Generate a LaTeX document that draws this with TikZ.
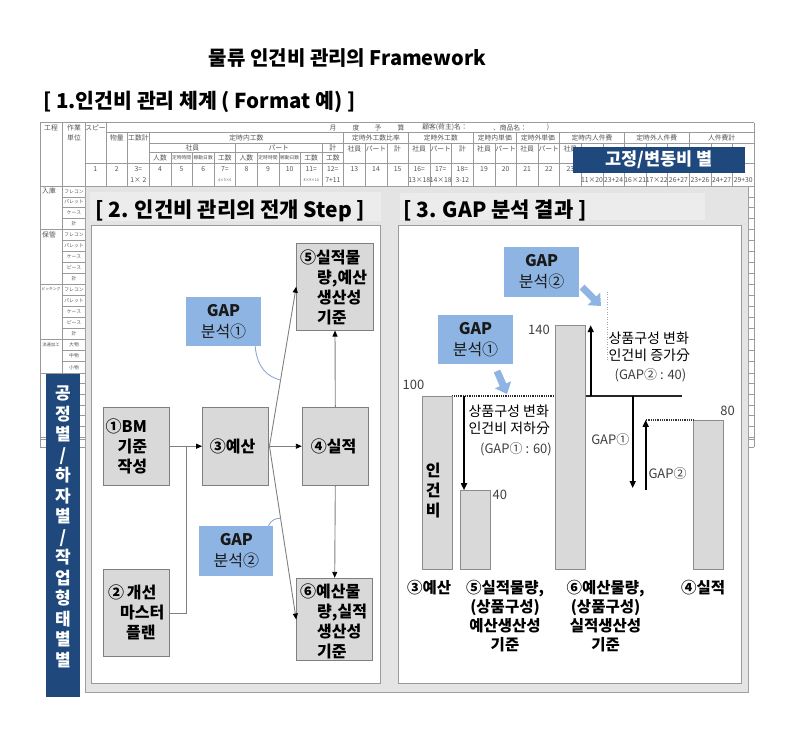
\documentclass[tikz,border=0pt]{standalone}
\usepackage{fontspec}
\setmainfont{Noto Sans CJK KR}
\newfontfamily\jp{Noto Sans CJK JP}
\usetikzlibrary{arrows.meta}
\definecolor{navy}{HTML}{1F497D}
\definecolor{gapblue}{HTML}{8DB4E2}
\definecolor{boxgray}{HTML}{D9D9D9}
\definecolor{boxline}{HTML}{7F7F7F}
\definecolor{panelgray}{HTML}{E4E4E4}
\definecolor{panelline}{HTML}{A0A0A0}
\definecolor{titlebg}{HTML}{ECECEC}
\definecolor{innerline}{HTML}{9A9A9A}
\definecolor{sheetline}{HTML}{9A9A9A}
\definecolor{sheettext}{HTML}{555555}
\definecolor{conn}{HTML}{808080}
\definecolor{curvec}{HTML}{8EA9D0}
\definecolor{txtgray}{HTML}{404040}
\begin{document}
\begin{tikzpicture}[x=1pt,y=-1pt,
  sheet/.style={draw=sheetline, line width=0.5pt},
  sh/.style={font=\jp\fontsize{6.8}{7}\selectfont, text=sheettext, inner sep=0pt},
  shs/.style={font=\jp\fontsize{4.8}{5}\selectfont, text=sheettext, inner sep=0pt},
  stepbox/.style={draw=boxline, fill=boxgray, line width=1pt, inner sep=0pt},
  boxtxt/.style={font=\bfseries\fontsize{16}{20}\selectfont, align=left, inner sep=0pt},
  gapbox/.style={fill=gapblue, inner sep=0pt, align=center, text=black!90, font=\fontsize{16}{21}\selectfont},
  flow/.style={draw=conn, line width=0.9pt, -{Triangle[length=6pt,width=5pt,color=black]}},
  plain/.style={draw=conn, line width=0.9pt},
  curvel/.style={draw=curvec, line width=0.9pt},
  ptitle/.style={font=\bfseries\fontsize{21}{24}\selectfont, inner sep=0pt},
  bar/.style={draw=boxline!90, fill=boxgray, line width=0.8pt, inner sep=0pt},
  garrow/.style={draw=black, line width=1.6pt, -{Triangle[length=7pt,width=6pt]}},
  fatarrow/.style={draw=gapblue, line width=7pt, -{Triangle[length=10pt,width=17pt]}},
  small/.style={font=\fontsize{14}{16.5}\selectfont, align=left, inner sep=0pt},
  gtxt/.style={font=\fontsize{13}{15}\selectfont, text=txtgray, inner sep=0pt},
  num/.style={font=\fontsize{13}{15}\selectfont, text=txtgray, inner sep=0pt},
  blabel/.style={font=\bfseries\fontsize{15.5}{19}\selectfont, align=center, inner sep=0pt}
]
\useasboundingbox (0,0) rectangle (799,737);
\fill[white] (0,0) rectangle (799,737);

% ---------- titles ----------
\node[font=\bfseries\fontsize{20}{24}\selectfont, inner sep=0pt] (title) at (347.5,58) {물류 인건비 관리의 Framework};
\node[font=\bfseries\fontsize{20.5}{24}\selectfont, anchor=west, inner sep=0pt] (t1) at (43,102) {[ 1.인건비 관리 체계 ( Format 예) ]};

% ---------- spreadsheet ----------
\draw[sheet] (40,122.7) -- (754,122.7);
\draw[sheet] (106,132.7) -- (754,132.7);
\draw[sheet] (149.2,143.3) -- (754,143.3);
\draw[sheet] (149.2,152.7) -- (343.6,152.7);
\draw[sheet] (85,163.3) -- (754,163.3);
\draw[sheet] (40,186) -- (754,186);
\foreach \xx in {40,62.7,85,754} \draw[sheet] (\xx,122.7) -- (\xx,447);
\foreach \k/\t in {0/122.7,1/132.7,2/132.7,3/152.7,4/152.7,5/152.7,6/143.3,7/152.7,8/152.7,9/152.7,10/143.3,11/132.7,12/143.3,13/143.3,14/132.7,15/143.3,16/143.3,17/132.7,18/143.3,19/132.7,20/143.3,21/132.7,22/143.3,23/143.3,24/132.7,25/143.3,26/143.3,27/132.7,28/143.3,29/143.3}
  \draw[sheet] ({106+21.6*\k},\t) -- ({106+21.6*\k},447);
\foreach \y in {229,284,339,373,437,439.5,447} \draw[sheet] (40,\y) -- (754,\y);
\foreach \y in {196.75,207.5,218.25,240,251,262,273,295,306,317,328,350.3,361.7,383.7,394.3,405,415.7,426.3} \draw[sheet] (62.7,\y) -- (754,\y);

% header texts
\node[sh] (h1) at (51,127.7) {工程};
\node[sh] (h2) at (74,127.7) {作業};
\node[sh] (h3) at (74,137.7) {単位};
\node[sh] (h4) at (95.5,127.7) {スピー};
\foreach \xx/\tx in {333/月,356/度,378/予,401/算,445/顧客(荷主)名：,510/、商品名：,548/)}
  \node[sh] at (\xx,127.7) {\tx};
\foreach \xx/\tx in {116.8/物量,138.4/工数計,246.4/定時内工数,376/定時外工数比率,440.8/定時外工数,494.8/定時内単価,538/定時外単価,592/定時内人件費,656.8/定時外人件費,721.6/人件費計}
  \node[sh] at (\xx,138) {\tx};
\foreach \xx/\tx in {192.4/社員,278.8/パート,332.8/計}
  \node[sh] at (\xx,148) {\tx};
\foreach \n/\tx in {13/社員,14/パート,15/計,16/社員,17/パート,18/計,19/社員,20/パート,21/社員,22/パート,23/社員}
  \node[sh] at ({95.2+21.6*(\n-1)},148.5) {\tx};
\foreach \n/\tx in {4/人数,7/工数,8/人数,11/工数,12/工数}
  \node[sh] at ({95.2+21.6*(\n-1)},158) {\tx};
\foreach \n/\tx in {5/定時時間,6/稼動日数,9/定時時間,10/稼動日数}
  \node[shs] at ({95.2+21.6*(\n-1)},158) {\tx};
\foreach \n/\a in {1/1,2/2,3/3=,4/4,5/5,6/6,7/7=,8/8,9/9,10/10,11/11=,12/12=,13/13,14/14,15/15,16/16=,17/17=,18/18=,19/19,20/20,21/21,22/22,23/23}
  \node[sh] at ({95.2+21.6*(\n-1)},169) {\a};
\foreach \n/\b in {3/1× 2,12/7+11,16/13×18,17/14×18,18/3-12,24/11×20,25/23+24,26/16×21,27/17×22,28/26+27,29/23+26,30/24+27,31/29+30}
  \node[sh] at ({95.2+21.6*(\n-1)},180.5) {\b};
\node[font=\jp\fontsize{3.6}{4}\selectfont, text=sheettext] (h7) at ({95.2+21.6*6},180.5) {4×5×6};
\node[font=\jp\fontsize{3.6}{4}\selectfont, text=sheettext] (h11) at ({95.2+21.6*10},180.5) {8×9×10};

% row labels
\node[sh] (r1) at (49,191.4) {入庫};
\node[sh] (r2) at (49,234.5) {保管};
\node[font=\jp\fontsize{3.8}{4}\selectfont, text=sheettext, inner sep=0pt] (r3) at (51,289.5) {ピッキング};
\node[font=\jp\fontsize{4.3}{5}\selectfont, text=sheettext, inner sep=0pt] (r4) at (51,344.7) {流通加工};
\foreach \y/\tx in {191.4/フレコン,202.1/パレット,212.9/ケース,223.6/計,234.5/フレコン,245.5/パレット,256.5/ケース,267.5/ピース,278.5/計,289.5/フレコン,300.5/パレット,311.5/ケース,322.5/ピース,333.5/計,344.7/大物,356/中物,367.3/小物}
  \node[shs] at (74,\y) {\tx};

% navy header box
\node[fill=navy, text=white, font=\bfseries\fontsize{17.5}{20}\selectfont, minimum width=172pt, minimum height=26pt, inner sep=0pt] (fixvar) at (659,160) {고정/변동비 별};

% ---------- panels ----------
\draw[fill=panelgray, draw=panelline, line width=1pt] (85,186) rectangle (748,692);
\fill[titlebg] (90,192) rectangle (381,221);
\fill[titlebg] (400,193) rectangle (705,220);
\draw[fill=white, draw=innerline, line width=0.9pt] (91.7,225) rectangle (380,683.3);
\draw[fill=white, draw=innerline, line width=0.9pt] (398.3,225) rectangle (741.7,683.3);
\node[ptitle, anchor=west] (t2) at (95,211) {[ 2. 인건비 관리의 전개 Step ]};
\node[ptitle, anchor=west] (t3) at (403,210) {[ 3. GAP 분석 결과 ]};

% left vertical navy label
\node[fill=navy, minimum width=34pt, minimum height=323pt, inner sep=0pt] (vbox) at (63,535.5) {};
\node[text=white, font=\bfseries\fontsize{17}{20.5}\selectfont, align=center, inner sep=0pt] (vtext) at (63,527) {공\\정\\별\\/\\하\\자\\별\\/\\작\\업\\형\\태\\별\\별};

% ---------- panel 2 ----------
\node[stepbox, minimum width=66pt, minimum height=77.7pt] (s1) at (136.3,446.2) {};
\node[stepbox, minimum width=66.3pt, minimum height=77.7pt] (s3) at (235.8,446.2) {};
\node[stepbox, minimum width=66pt, minimum height=77.7pt] (s4) at (335.3,446.2) {};
\node[stepbox, minimum width=76.6pt, minimum height=86.7pt] (s5) at (335,286.7) {};
\node[stepbox, minimum width=76pt, minimum height=82.4pt] (s6) at (334.7,619.5) {};
\node[stepbox, minimum width=66pt, minimum height=87.4pt] (s2) at (136.3,613) {};

\node[boxtxt, anchor=west] (s1t) at (105.5,446.5) {①BM\\\hspace*{12pt}기준\\\hspace*{12pt}작성};
\node[boxtxt] (s3t) at (232.5,446.7) {③예산};
\node[boxtxt] (s4t) at (333.5,446.7) {④실적};
\node[boxtxt, anchor=west] (s2t) at (108,612.5) {②\,개선\\\hspace*{12pt}마스터\\\hspace*{18pt}플랜};
\node[boxtxt, anchor=west] (s5t) at (300,287) {⑤실적물\\\hspace*{17pt}량,예산\\\hspace*{17pt}생산성\\\hspace*{17pt}기준};
\node[boxtxt, anchor=west] (s6t) at (300,621.5) {⑥예산물\\\hspace*{17pt}량,실적\\\hspace*{17pt}생산성\\\hspace*{17pt}기준};

\node[gapbox, minimum width=75pt, minimum height=48.7pt] (g1) at (223.5,321.7) {\textbf{GAP}\\분석①};
\node[gapbox, minimum width=74pt, minimum height=50pt] (g2) at (236.3,551) {\textbf{GAP}\\분석②};

\coordinate (J) at (186,446.2);
\draw[flow] (s1.east) -- (s3.west);
\draw[plain] (s2.east) -| (J);
\draw[flow] (s3.east) -- (s4.west);
\draw[flow] (s3.east) -- (s5.west);
\draw[flow] (s3.east) -- (s6.west);
\draw[flow] (s4.north) -- (s5.south);
\draw[flow] (s4.south) -- (s6.north);

\coordinate (c1) at (280.5,380);
\coordinate (c2) at (280.5,518.3);
\draw[curvel] ([xshift=-6pt]g1.south east) .. controls (257,368) and (268,377) .. (c1);
\draw[curvel] ([xshift=-5pt]g2.north east) .. controls (271,520) and (276,518) .. (c2);

% ---------- panel 3 ----------
\coordinate (bl1) at (452.3,395.7);
\coordinate (bl2) at (555.7,395.7);
\coordinate (bl3) at (585,395.7);
\coordinate (bl4) at (682,395.7);
\draw[draw=black!85, line width=2pt, dash pattern=on 1pt off 0.8pt] (bl1) -- (bl2);
\draw[draw=black!85, line width=2pt] (bl3) -- (bl4);

\node[bar, anchor=south, minimum width=30pt, minimum height=173.3pt] (b3) at (437.3,570) {};
\node[bar, anchor=south, minimum width=30pt, minimum height=79pt] (b5) at (475.7,570) {};
\node[bar, anchor=south, minimum width=29.3pt, minimum height=244pt] (b6) at (570.35,570) {};
\node[bar, anchor=south, minimum width=30pt, minimum height=149.3pt] (b4) at (708.3,570) {};

\node[font=\bfseries\fontsize{16}{20}\selectfont, align=center, inner sep=0pt] (b3t) at (433.3,491) {인\\건\\비};

\coordinate (p5) at (464,395.7);
\coordinate (p6) at (590.7,395.7);
\coordinate (pg1) at (632.7,395.7);
\coordinate (pg1e) at (632.7,488);
\coordinate (pg2) at (645.7,490);
\draw[garrow] (p5) -- (p5 |- b5.north);
\draw[garrow] (p6) -- (p6 |- b6.north);
\draw[garrow] (pg1) -- (pg1e);
\draw[garrow] (pg2) -- (pg2 |- b4.north);
\draw[draw=black!80, line width=1.6pt, dash pattern=on 1pt off 0.8pt] (pg2 |- b4.north) -- (b4.north west);

\coordinate (fv1) at (607.3,291.7);
\coordinate (fv2) at (607.3,361.7);
\draw[draw=black!35, line width=0.5pt, dash pattern=on 1pt off 1.5pt] (fv1) -- (fv2);

\node[gapbox, minimum width=74.7pt, minimum height=49.4pt] (g3) at (541.6,272) {\textbf{GAP}\\분석②};
\node[gapbox, minimum width=74.4pt, minimum height=49pt] (g4) at (475.5,339.5) {\textbf{GAP}\\분석①};
\coordinate (fa1s) at (582,287);
\coordinate (fa1e) at (601,306);
\coordinate (fa2s) at (497,371);
\coordinate (fa2e) at (507,394);
\draw[fatarrow] (fa1s) -- (fa1e);
\draw[fatarrow] (fa2s) -- (fa2e);

\node[num] (n140) at (539,330) {140};
\node[num] (n100) at (413.5,385) {100};
\node[num] (n80) at (727.5,410.7) {80};
\node[num, anchor=west] (n40) at (492.5,495) {40};

\node[small, anchor=west] (txt2) at (608.3,346.7) {상품구성 변화\\인건비 증가分};
\node[gtxt] (gp2) at (650.5,375) {(GAP② : 40)};
\node[small, anchor=west] (txt1) at (468.3,419.7) {상품구성 변화\\인건비 저하分};
\node[gtxt] (gp1) at (516,449.3) {(GAP① : 60)};
\node[gtxt] (lg1) at (610.3,440) {GAP①};
\node[gtxt, anchor=west] (lg2) at (648.3,473.3) {GAP②};

\node[blabel] (l3) at (429.2,587.7) {③예산};
\node[blabel] (l5) at (505,616.3) {⑤실적물량,\\(상품구성)\\예산생산성\\기준};
\node[blabel] (l6) at (605.5,616.3) {⑥예산물량,\\(상품구성)\\실적생산성\\기준};
\node[blabel] (l4) at (703,587.7) {④실적};
\end{tikzpicture}
\end{document}
